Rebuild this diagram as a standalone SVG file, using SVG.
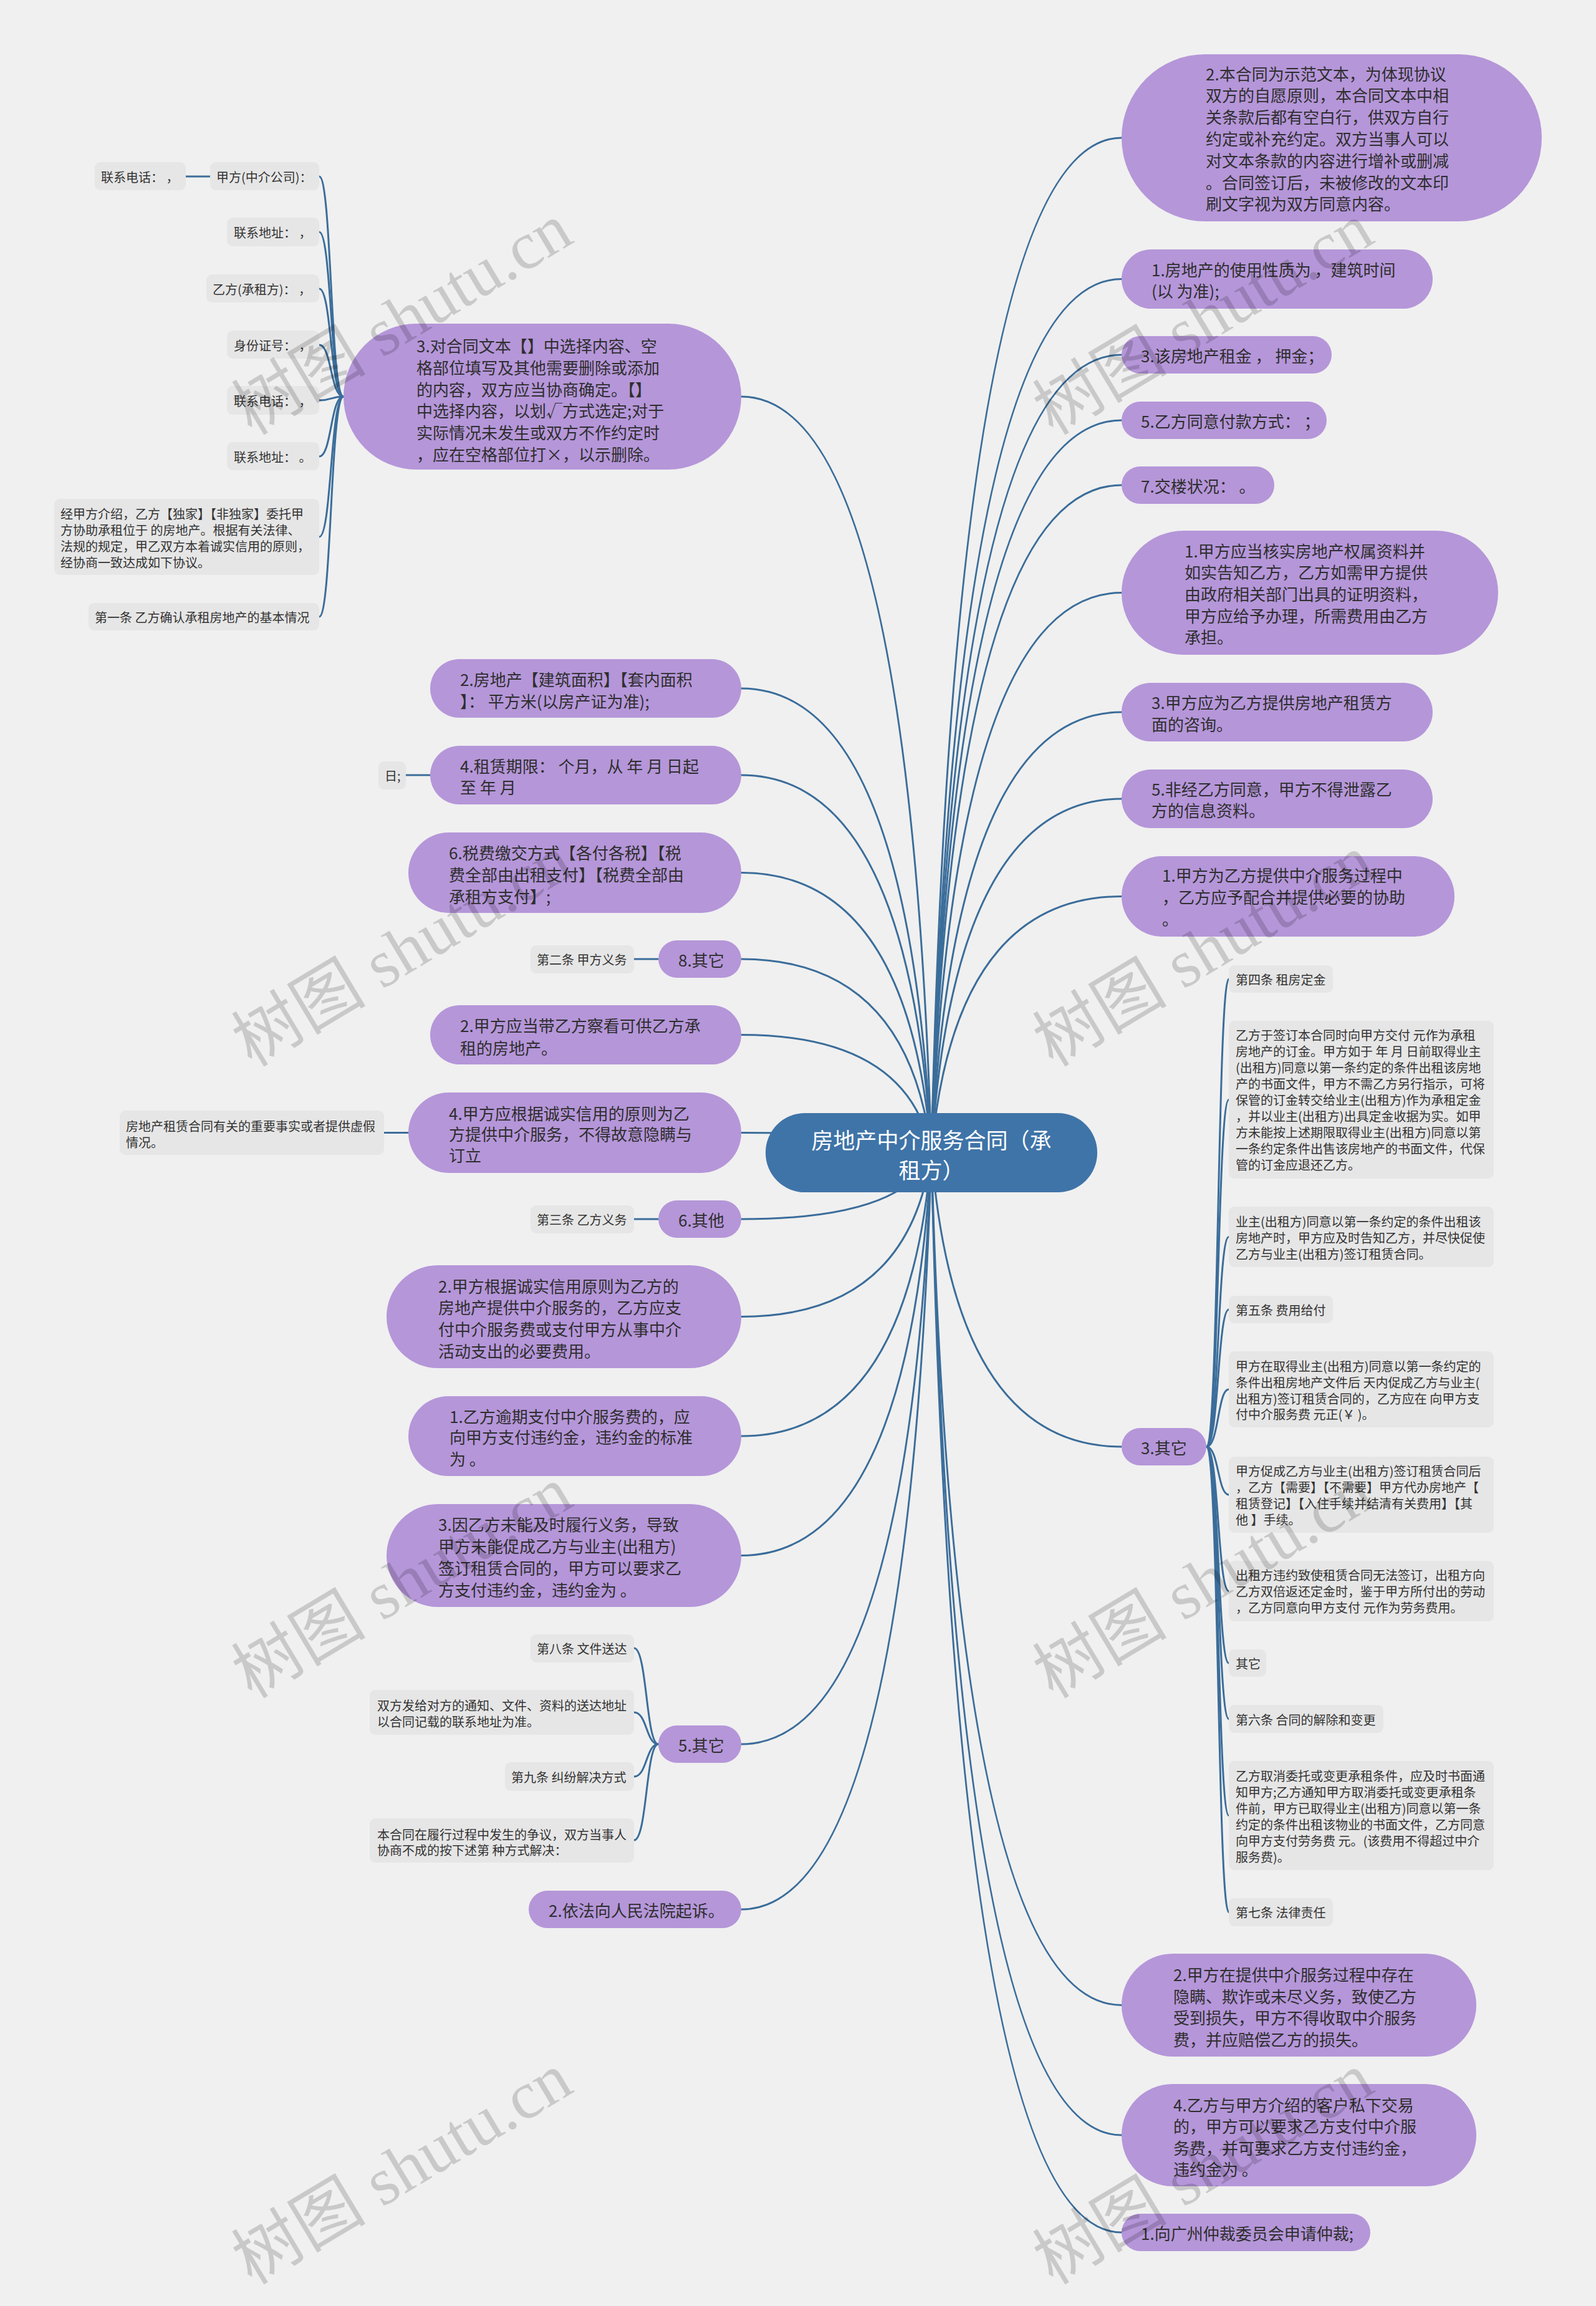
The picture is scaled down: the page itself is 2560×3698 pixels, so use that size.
<svg xmlns="http://www.w3.org/2000/svg" width="2560" height="3698" viewBox="0 0 2560 3698">
<style>
.c{fill:none;stroke:#3b6d9a;stroke-width:3;stroke-linecap:round}
.p{fill:#b596d9}
.l{fill:#e6e6e6}
.t{font-family:'Noto Sans CJK SC','Noto Sans',sans-serif;dominant-baseline:central;fill:#2e2e2e}
.tp{font-size:26px}
.tl{font-size:20px;fill:#333}
.tc{font-size:35px;fill:#ffffff;text-anchor:middle}
.wm{font-family:'Liberation Serif','Noto Sans CJK SC',serif;font-size:108px;fill:#000;fill-opacity:0.16;text-anchor:middle;dominant-baseline:central}
</style>
<rect x="0" y="0" width="2560" height="3698" fill="#f0f0f0"/>

<g id="connectors">
<path class="c" d="M1494 1848 Q1531 221 1799 221"/>
<path class="c" d="M1494 1848 Q1531 447.5 1799 447.5"/>
<path class="c" d="M1494 1848 Q1531 569 1799 569"/>
<path class="c" d="M1494 1848 Q1531 674 1799 674"/>
<path class="c" d="M1494 1848 Q1531 778 1799 778"/>
<path class="c" d="M1494 1848 Q1531 950.5 1799 950.5"/>
<path class="c" d="M1494 1848 Q1531 1142 1799 1142"/>
<path class="c" d="M1494 1848 Q1531 1281 1799 1281"/>
<path class="c" d="M1494 1848 Q1531 1437.5 1799 1437.5"/>
<path class="c" d="M1494 1848 Q1531 2320 1799 2320"/>
<path class="c" d="M1494 1848 Q1531 3215.5 1799 3215.5"/>
<path class="c" d="M1494 1848 Q1531 3424 1799 3424"/>
<path class="c" d="M1494 1848 Q1531 3580 1799 3580"/>
<path class="c" d="M1494 1848 Q1457 636 1189 636"/>
<path class="c" d="M1494 1848 Q1457 1104 1189 1104"/>
<path class="c" d="M1494 1848 Q1457 1243 1189 1243"/>
<path class="c" d="M1494 1848 Q1457 1399.5 1189 1399.5"/>
<path class="c" d="M1494 1848 Q1457 1538 1189 1538"/>
<path class="c" d="M1494 1848 Q1457 1659.5 1189 1659.5"/>
<path class="c" d="M1494 1848 Q1457 1816.5 1189 1816.5"/>
<path class="c" d="M1494 1848 Q1457 1955 1189 1955"/>
<path class="c" d="M1494 1848 Q1457 2111.5 1189 2111.5"/>
<path class="c" d="M1494 1848 Q1457 2303 1189 2303"/>
<path class="c" d="M1494 1848 Q1457 2494.5 1189 2494.5"/>
<path class="c" d="M1494 1848 Q1457 2797 1189 2797"/>
<path class="c" d="M1494 1848 Q1457 3062 1189 3062"/>

<path class="c" d="M551 636 C530 636 532 283 512 283"/>
<path class="c" d="M551 636 C530 636 532 372 512 372"/>
<path class="c" d="M551 636 C530 636 532 463 512 463"/>
<path class="c" d="M551 636 C530 636 532 553 512 553"/>
<path class="c" d="M551 636 C530 636 532 642 512 642"/>
<path class="c" d="M551 636 C530 636 532 732 512 732"/>
<path class="c" d="M551 636 C530 636 532 861 512 861"/>
<path class="c" d="M551 636 C530 636 532 989 512 989"/>
<path class="c" d="M337 283 L298 283"/>
<path class="c" d="M690 1243 L651 1243"/>
<path class="c" d="M1056 1538 L1017 1538"/>
<path class="c" d="M655 1816.5 L616 1816.5"/>
<path class="c" d="M1056 1955 L1017 1955"/>
<path class="c" d="M1056 2797 C1036 2797 1038 2643 1017 2643"/>
<path class="c" d="M1056 2797 C1036 2797 1038 2746 1017 2746"/>
<path class="c" d="M1056 2797 C1036 2797 1038 2849 1017 2849"/>
<path class="c" d="M1056 2797 C1036 2797 1038 2951 1017 2951"/>

<path class="c" d="M1935 2320 C1955 2320 1953 1570 1971 1570"/>
<path class="c" d="M1935 2320 C1955 2320 1953 1763.5 1971 1763.5"/>
<path class="c" d="M1935 2320 C1955 2320 1953 1983.5 1971 1983.5"/>
<path class="c" d="M1935 2320 C1955 2320 1953 2100 1971 2100"/>
<path class="c" d="M1935 2320 C1955 2320 1953 2228 1971 2228"/>
<path class="c" d="M1935 2320 C1955 2320 1953 2397 1971 2397"/>
<path class="c" d="M1935 2320 C1955 2320 1953 2551.5 1971 2551.5"/>
<path class="c" d="M1935 2320 C1955 2320 1953 2667 1971 2667"/>
<path class="c" d="M1935 2320 C1955 2320 1953 2756.5 1971 2756.5"/>
<path class="c" d="M1935 2320 C1955 2320 1953 2911.5 1971 2911.5"/>
<path class="c" d="M1935 2320 C1955 2320 1953 3066.5 1971 3066.5"/>
</g>

<g id="center">
<rect x="1228" y="1785" width="532" height="127" rx="63" fill="#3f74a8"/>
<text class="t tc"><tspan x="1494" y="1826">房地产中介服务合同（承</tspan><tspan x="1494" y="1874">租方）</tspan></text>
</g>

<g id="R1"><rect class="p" x="1799" y="87" width="674" height="268" rx="134"/>
<text class="t tp"><tspan x="1934" y="117">2.本合同为示范文本，为体现协议</tspan><tspan x="1934" y="151">双方的自愿原则，本合同文本中相</tspan><tspan x="1934" y="186">关条款后都有空白行，供双方自行</tspan><tspan x="1934" y="221">约定或补充约定。双方当事人可以</tspan><tspan x="1934" y="256">对文本条款的内容进行增补或删减</tspan><tspan x="1934" y="291">。合同签订后，未被修改的文本印</tspan><tspan x="1934" y="325">刷文字视为双方同意内容。</tspan></text></g>
<g id="R2"><rect class="p" x="1799" y="400" width="499" height="95" rx="47.5"/>
<text class="t tp"><tspan x="1847" y="431">1.房地产的使用性质为 ，建筑时间</tspan><tspan x="1847" y="465">(以 为准);</tspan></text></g>
<g id="R3"><rect class="p" x="1799" y="539" width="337" height="60" rx="30"/>
<text class="t tp" x="1830" y="569">3.该房地产租金 ， 押金；</text></g>
<g id="R4"><rect class="p" x="1799" y="644" width="329" height="60" rx="30"/>
<text class="t tp" x="1830" y="674">5.乙方同意付款方式： ；</text></g>
<g id="R5"><rect class="p" x="1799" y="748" width="245" height="60" rx="30"/>
<text class="t tp" x="1830" y="778">7.交楼状况： 。</text></g>
<g id="R6"><rect class="p" x="1799" y="851" width="604" height="199" rx="99.5"/>
<text class="t tp"><tspan x="1900" y="882">1.甲方应当核实房地产权属资料并</tspan><tspan x="1900" y="916">如实告知乙方，乙方如需甲方提供</tspan><tspan x="1900" y="951">由政府相关部门出具的证明资料，</tspan><tspan x="1900" y="986">甲方应给予办理，所需费用由乙方</tspan><tspan x="1900" y="1020">承担。</tspan></text></g>
<g id="R7"><rect class="p" x="1799" y="1095" width="499" height="94" rx="47"/>
<text class="t tp"><tspan x="1847" y="1125">3.甲方应为乙方提供房地产租赁方</tspan><tspan x="1847" y="1160">面的咨询。</tspan></text></g>
<g id="R8"><rect class="p" x="1799" y="1234" width="499" height="94" rx="47"/>
<text class="t tp"><tspan x="1847" y="1264">5.非经乙方同意，甲方不得泄露乙</tspan><tspan x="1847" y="1298">方的信息资料。</tspan></text></g>
<g id="R9"><rect class="p" x="1799" y="1373" width="534" height="129" rx="64.5"/>
<text class="t tp"><tspan x="1864" y="1402">1.甲方为乙方提供中介服务过程中</tspan><tspan x="1864" y="1437">，乙方应予配合并提供必要的协助</tspan><tspan x="1864" y="1472">。</tspan></text></g>
<g id="R10"><rect class="p" x="1799" y="2290" width="136" height="60" rx="30"/>
<text class="t tp" x="1830" y="2320">3.其它</text></g>
<g id="R11"><rect class="p" x="1799" y="3133" width="569" height="165" rx="82.5"/>
<text class="t tp"><tspan x="1882" y="3165">2.甲方在提供中介服务过程中存在</tspan><tspan x="1882" y="3200">隐瞒、欺诈或未尽义务，致使乙方</tspan><tspan x="1882" y="3234">受到损失，甲方不得收取中介服务</tspan><tspan x="1882" y="3269">费，并应赔偿乙方的损失。</tspan></text></g>
<g id="R12"><rect class="p" x="1799" y="3342" width="569" height="164" rx="82"/>
<text class="t tp"><tspan x="1882" y="3374">4.乙方与甲方介绍的客户私下交易</tspan><tspan x="1882" y="3408">的，甲方可以要求乙方支付中介服</tspan><tspan x="1882" y="3443">务费，并可要求乙方支付违约金，</tspan><tspan x="1882" y="3477">违约金为 。</tspan></text></g>
<g id="R13"><rect class="p" x="1799" y="3550" width="399" height="60" rx="30"/>
<text class="t tp" x="1830" y="3580">1.向广州仲裁委员会申请仲裁;</text></g>

<g id="L1"><rect class="p" x="551" y="519" width="638" height="234" rx="117"/>
<text class="t tp"><tspan x="668" y="553">3.对合同文本【】中选择内容、空</tspan><tspan x="668" y="588">格部位填写及其他需要删除或添加</tspan><tspan x="668" y="623">的内容，双方应当协商确定。【】</tspan><tspan x="668" y="657">中选择内容，以划√方式选定;对于</tspan><tspan x="668" y="692">实际情况未发生或双方不作约定时</tspan><tspan x="668" y="727">，应在空格部位打×，以示删除。</tspan></text></g>
<g id="L2"><rect class="p" x="690" y="1057" width="499" height="94" rx="47"/>
<text class="t tp"><tspan x="738" y="1088">2.房地产【建筑面积】【套内面积</tspan><tspan x="738" y="1123">】：  平方米(以房产证为准);</tspan></text></g>
<g id="L3"><rect class="p" x="690" y="1196" width="499" height="94" rx="47"/>
<text class="t tp"><tspan x="738" y="1227">4.租赁期限：  个月，从 年 月 日起</tspan><tspan x="738" y="1261">至 年 月</tspan></text></g>
<g id="L4"><rect class="p" x="655" y="1335" width="534" height="129" rx="64.5"/>
<text class="t tp"><tspan x="720" y="1366">6.税费缴交方式【各付各税】【税</tspan><tspan x="720" y="1401">费全部由出租支付】【税费全部由</tspan><tspan x="720" y="1436">承租方支付】;</tspan></text></g>
<g id="L5"><rect class="p" x="1056" y="1508" width="133" height="60" rx="30"/>
<text class="t tp" x="1088" y="1538">8.其它</text></g>
<g id="L6"><rect class="p" x="690" y="1612" width="499" height="95" rx="47.5"/>
<text class="t tp"><tspan x="738" y="1643">2.甲方应当带乙方察看可供乙方承</tspan><tspan x="738" y="1679">租的房地产。</tspan></text></g>
<g id="L7"><rect class="p" x="655" y="1752" width="534" height="129" rx="64.5"/>
<text class="t tp"><tspan x="720" y="1784">4.甲方应根据诚实信用的原则为乙</tspan><tspan x="720" y="1817">方提供中介服务，不得故意隐瞒与</tspan><tspan x="720" y="1851">订立</tspan></text></g>
<g id="L8"><rect class="p" x="1056" y="1925" width="133" height="60" rx="30"/>
<text class="t tp" x="1088" y="1955">6.其他</text></g>
<g id="L9"><rect class="p" x="620" y="2029" width="569" height="165" rx="82.5"/>
<text class="t tp"><tspan x="703" y="2061">2.甲方根据诚实信用原则为乙方的</tspan><tspan x="703" y="2095">房地产提供中介服务的，乙方应支</tspan><tspan x="703" y="2130">付中介服务费或支付甲方从事中介</tspan><tspan x="703" y="2165">活动支出的必要费用。</tspan></text></g>
<g id="L10"><rect class="p" x="655" y="2239" width="534" height="128" rx="64"/>
<text class="t tp"><tspan x="721" y="2270">1.乙方逾期支付中介服务费的，应</tspan><tspan x="721" y="2303">向甲方支付违约金，违约金的标准</tspan><tspan x="721" y="2338">为 。</tspan></text></g>
<g id="L11"><rect class="p" x="620" y="2412" width="569" height="165" rx="82.5"/>
<text class="t tp"><tspan x="703" y="2443">3.因乙方未能及时履行义务，导致</tspan><tspan x="703" y="2478">甲方未能促成乙方与业主(出租方)</tspan><tspan x="703" y="2513">签订租赁合同的，甲方可以要求乙</tspan><tspan x="703" y="2548">方支付违约金，违约金为 。</tspan></text></g>
<g id="L12"><rect class="p" x="1056" y="2767" width="133" height="60" rx="30"/>
<text class="t tp" x="1088" y="2797">5.其它</text></g>
<g id="L13"><rect class="p" x="848" y="3032" width="341" height="60" rx="30"/>
<text class="t tp" x="880" y="3062">2.依法向人民法院起诉。</text></g>

<g id="A1"><rect class="l" x="152" y="260" width="146" height="45" rx="9"/><text class="t tl" x="162" y="283">联系电话：  ，</text></g>
<g id="A2"><rect class="l" x="337" y="260" width="175" height="45" rx="9"/><text class="t tl" x="347" y="283">甲方(中介公司)：</text></g>
<g id="A3"><rect class="l" x="364" y="349" width="148" height="46" rx="9"/><text class="t tl" x="375" y="372">联系地址：  ，</text></g>
<g id="A4"><rect class="l" x="331" y="440" width="181" height="45" rx="9"/><text class="t tl" x="341" y="463">乙方(承租方)：  ，</text></g>
<g id="A5"><rect class="l" x="364" y="530" width="148" height="45" rx="9"/><text class="t tl" x="375" y="553">身份证号：  ，</text></g>
<g id="A6"><rect class="l" x="364" y="619" width="148" height="46" rx="9"/><text class="t tl" x="375" y="642">联系电话：  ，</text></g>
<g id="A7"><rect class="l" x="364" y="709" width="148" height="45" rx="9"/><text class="t tl" x="375" y="732">联系地址：  。</text></g>
<g id="A8"><rect class="l" x="87" y="800" width="425" height="122" rx="9"/>
<text class="t tl"><tspan x="97" y="823">经甲方介绍，乙方【独家】【非独家】委托甲</tspan><tspan x="97" y="849">方协助承租位于 的房地产。根据有关法律、</tspan><tspan x="97" y="875">法规的规定，甲乙双方本着诚实信用的原则，</tspan><tspan x="97" y="901">经协商一致达成如下协议。</tspan></text></g>
<g id="A9"><rect class="l" x="142" y="967" width="370" height="44" rx="9"/><text class="t tl" x="152" y="989">第一条 乙方确认承租房地产的基本情况</text></g>
<g id="B1"><rect class="l" x="607" y="1221" width="44" height="45" rx="9"/><text class="t tl" x="617" y="1243">日;</text></g>
<g id="B2"><rect class="l" x="851" y="1516" width="166" height="45" rx="9"/><text class="t tl" x="861" y="1538">第二条 甲方义务</text></g>
<g id="B3"><rect class="l" x="192" y="1781" width="424" height="71" rx="9"/>
<text class="t tl"><tspan x="202" y="1805">房地产租赁合同有关的重要事实或者提供虚假</tspan><tspan x="202" y="1831">情况。</tspan></text></g>
<g id="B4"><rect class="l" x="851" y="1933" width="166" height="45" rx="9"/><text class="t tl" x="861" y="1955">第三条 乙方义务</text></g>
<g id="B5"><rect class="l" x="851" y="2621" width="166" height="45" rx="9"/><text class="t tl" x="861" y="2643">第八条 文件送达</text></g>
<g id="B6"><rect class="l" x="593" y="2710" width="424" height="72" rx="9"/>
<text class="t tl"><tspan x="605" y="2734">双方发给对方的通知、文件、资料的送达地址</tspan><tspan x="605" y="2760">以合同记载的联系地址为准。</tspan></text></g>
<g id="B7"><rect class="l" x="810" y="2826" width="207" height="46" rx="9"/><text class="t tl" x="820" y="2849">第九条 纠纷解决方式</text></g>
<g id="B8"><rect class="l" x="593" y="2916" width="424" height="71" rx="9"/>
<text class="t tl"><tspan x="605" y="2941">本合同在履行过程中发生的争议，双方当事人</tspan><tspan x="605" y="2966">协商不成的按下述第 种方式解决：</tspan></text></g>

<g id="C1"><rect class="l" x="1971" y="1548" width="167" height="44" rx="9"/><text class="t tl" x="1982" y="1570">第四条 租房定金</text></g>
<g id="C2"><rect class="l" x="1971" y="1637" width="425" height="253" rx="9"/>
<text class="t tl"><tspan x="1982" y="1659">乙方于签订本合同时向甲方交付 元作为承租</tspan><tspan x="1982" y="1685">房地产的订金。甲方如于 年 月 日前取得业主</tspan><tspan x="1982" y="1711">(出租方)同意以第一条约定的条件出租该房地</tspan><tspan x="1982" y="1737">产的书面文件，甲方不需乙方另行指示，可将</tspan><tspan x="1982" y="1763">保管的订金转交给业主(出租方)作为承租定金</tspan><tspan x="1982" y="1789">，并以业主(出租方)出具定金收据为实。如甲</tspan><tspan x="1982" y="1815">方未能按上述期限取得业主(出租方)同意以第</tspan><tspan x="1982" y="1841">一条约定条件出售该房地产的书面文件，代保</tspan><tspan x="1982" y="1867">管的订金应退还乙方。</tspan></text></g>
<g id="C3"><rect class="l" x="1971" y="1935" width="425" height="97" rx="9"/>
<text class="t tl"><tspan x="1982" y="1958">业主(出租方)同意以第一条约定的条件出租该</tspan><tspan x="1982" y="1984">房地产时，甲方应及时告知乙方，并尽快促使</tspan><tspan x="1982" y="2010">乙方与业主(出租方)签订租赁合同。</tspan></text></g>
<g id="C4"><rect class="l" x="1971" y="2078" width="167" height="44" rx="9"/><text class="t tl" x="1982" y="2100">第五条 费用给付</text></g>
<g id="C5"><rect class="l" x="1971" y="2167" width="425" height="122" rx="9"/>
<text class="t tl"><tspan x="1982" y="2190">甲方在取得业主(出租方)同意以第一条约定的</tspan><tspan x="1982" y="2216">条件出租房地产文件后 天内促成乙方与业主(</tspan><tspan x="1982" y="2242">出租方)签订租赁合同的，乙方应在 向甲方支</tspan><tspan x="1982" y="2267">付中介服务费 元正(￥ )。</tspan></text></g>
<g id="C6"><rect class="l" x="1971" y="2336" width="425" height="122" rx="9"/>
<text class="t tl"><tspan x="1982" y="2358">甲方促成乙方与业主(出租方)签订租赁合同后</tspan><tspan x="1982" y="2384">，乙方【需要】【不需要】甲方代办房地产【</tspan><tspan x="1982" y="2410">租赁登记】【入住手续并结清有关费用】【其</tspan><tspan x="1982" y="2436">他 】手续。</tspan></text></g>
<g id="C7"><rect class="l" x="1971" y="2503" width="425" height="97" rx="9"/>
<text class="t tl"><tspan x="1982" y="2525">出租方违约致使租赁合同无法签订，出租方向</tspan><tspan x="1982" y="2551">乙方双倍返还定金时，鉴于甲方所付出的劳动</tspan><tspan x="1982" y="2577">，乙方同意向甲方支付 元作为劳务费用。</tspan></text></g>
<g id="C8"><rect class="l" x="1971" y="2645" width="60" height="44" rx="9"/><text class="t tl" x="1982" y="2667">其它</text></g>
<g id="C9"><rect class="l" x="1971" y="2734" width="248" height="45" rx="9"/><text class="t tl" x="1982" y="2757">第六条 合同的解除和变更</text></g>
<g id="C10"><rect class="l" x="1971" y="2824" width="425" height="175" rx="9"/>
<text class="t tl"><tspan x="1982" y="2847">乙方取消委托或变更承租条件，应及时书面通</tspan><tspan x="1982" y="2873">知甲方;乙方通知甲方取消委托或变更承租条</tspan><tspan x="1982" y="2899">件前，甲方已取得业主(出租方)同意以第一条</tspan><tspan x="1982" y="2925">约定的条件出租该物业的书面文件，乙方同意</tspan><tspan x="1982" y="2951">向甲方支付劳务费 元。(该费用不得超过中介</tspan><tspan x="1982" y="2977">服务费)。</tspan></text></g>
<g id="C11"><rect class="l" x="1971" y="3044" width="167" height="45" rx="9"/><text class="t tl" x="1982" y="3066">第七条 法律责任</text></g>

<g id="watermarks">
<text class="wm" transform="translate(645 512) rotate(-31)">树图 shutu.cn</text>
<text class="wm" transform="translate(1930 512) rotate(-31)">树图 shutu.cn</text>
<text class="wm" transform="translate(645 1525) rotate(-31)">树图 shutu.cn</text>
<text class="wm" transform="translate(1930 1525) rotate(-31)">树图 shutu.cn</text>
<text class="wm" transform="translate(645 2538) rotate(-31)">树图 shutu.cn</text>
<text class="wm" transform="translate(1930 2538) rotate(-31)">树图 shutu.cn</text>
<text class="wm" transform="translate(645 3478) rotate(-31)">树图 shutu.cn</text>
<text class="wm" transform="translate(1930 3478) rotate(-31)">树图 shutu.cn</text>
</g>
</svg>
